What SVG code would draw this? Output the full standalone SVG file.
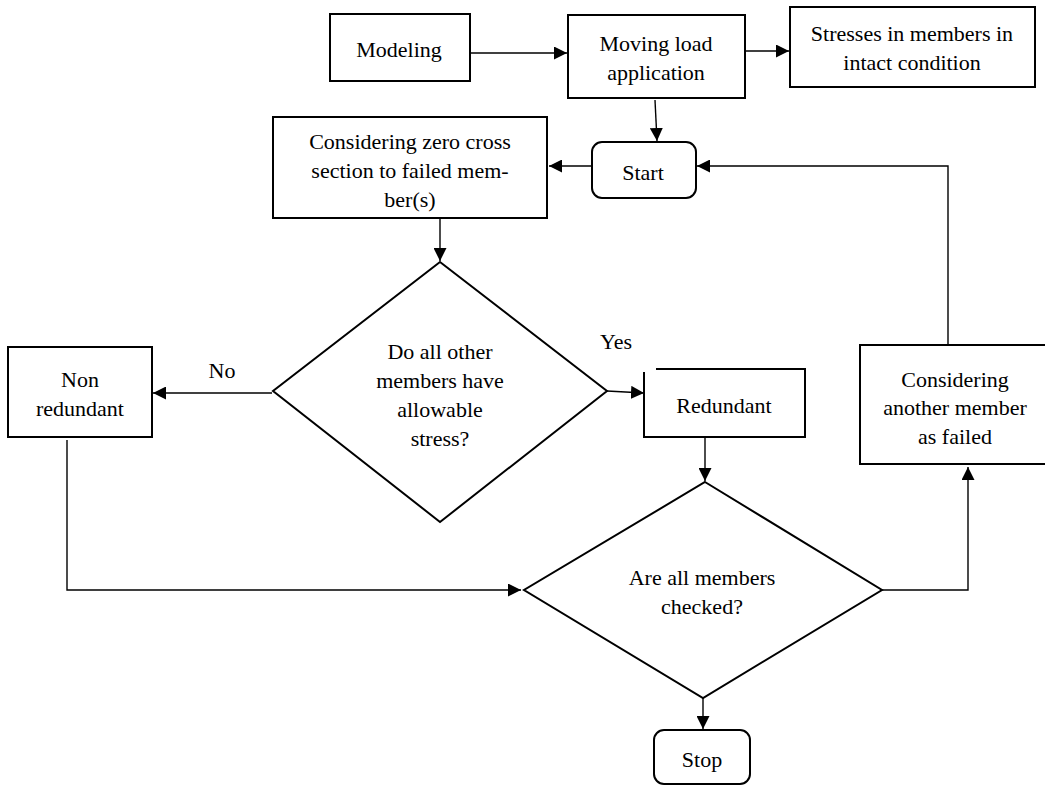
<svg xmlns="http://www.w3.org/2000/svg" width="1045" height="787" viewBox="0 0 1045 787">
<defs>
<style>
.box{fill:#fff;stroke:#000;stroke-width:2}
.ln{fill:none;stroke:#000;stroke-width:1.4}
text{font-family:"Liberation Serif","Times New Roman",serif;font-size:22px;fill:#000;text-anchor:middle}
</style>
<marker id="ah" viewBox="0 0 10 10" refX="10" refY="5" markerWidth="13" markerHeight="13" markerUnits="userSpaceOnUse" orient="auto">
<path d="M0,0 L10,5 L0,10 z" fill="#000"/>
</marker>
</defs>
<rect width="1045" height="787" fill="#fff"/>
<g id="connectors">
<line class="ln" x1="470" y1="53" x2="567" y2="53" marker-end="url(#ah)"/>
<line class="ln" x1="745" y1="51" x2="789" y2="51" marker-end="url(#ah)"/>
<line class="ln" x1="655" y1="100" x2="657" y2="141" marker-end="url(#ah)"/>
<line class="ln" x1="592" y1="166" x2="549" y2="166" marker-end="url(#ah)"/>
<line class="ln" x1="440" y1="219" x2="440" y2="261" marker-end="url(#ah)"/>
<line class="ln" x1="272" y1="393" x2="153" y2="393" marker-end="url(#ah)"/>
<line class="ln" x1="607" y1="391" x2="644" y2="393" marker-end="url(#ah)"/>
<line class="ln" x1="705" y1="437" x2="705" y2="481" marker-end="url(#ah)"/>
<line class="ln" x1="703" y1="698" x2="703" y2="729" marker-end="url(#ah)"/>
<polyline class="ln" points="67,440 67,590 521,590" marker-end="url(#ah)"/>
<polyline class="ln" points="882,590 968,590 968,467" marker-end="url(#ah)"/>
<polyline class="ln" points="948,345 948,166 697,166" marker-end="url(#ah)"/>
<text x="222" y="378">No</text>
<text x="616" y="349">Yes</text>
</g>
<g id="modeling">
<rect class="box" x="330" y="14" width="140" height="67"/>
<text x="399" y="57">Modeling</text>
</g>
<g id="moving-load">
<rect class="box" x="568" y="15" width="177" height="83"/>
<text x="656" y="51">Moving load</text>
<text x="656" y="80">application</text>
</g>
<g id="stresses">
<rect class="box" x="790" y="7" width="245" height="80"/>
<text x="912" y="41">Stresses in members in</text>
<text x="912" y="70">intact condition</text>
</g>
<g id="start">
<rect class="box" x="592" y="142" width="104" height="56" rx="10"/>
<text x="643" y="180">Start</text>
</g>
<g id="zero-cross">
<rect class="box" x="273" y="117" width="274" height="101"/>
<text x="410" y="149">Considering zero cross</text>
<text x="410" y="178">section to failed mem-</text>
<text x="410" y="207">ber(s)</text>
</g>
<g id="decision-stress">
<polygon class="box" points="440,262 607,391 440,522 273,391"/>
<text x="440" y="359">Do all other</text>
<text x="440" y="388">members have</text>
<text x="440" y="417">allowable</text>
<text x="440" y="446">stress?</text>
</g>
<g id="non-redundant">
<rect class="box" x="8" y="347" width="144" height="90"/>
<text x="80" y="387">Non</text>
<text x="80" y="416">redundant</text>
</g>
<g id="redundant">
<rect x="644" y="369" width="161" height="68" fill="#fff"/>
<path class="box" d="M644,372 V437 H805 V369 H656" fill="none"/>
<text x="724" y="413">Redundant</text>
</g>
<g id="decision-checked">
<polygon class="box" points="705,482 882,590 703,698 524,590"/>
<text x="702" y="585">Are all members</text>
<text x="702" y="614">checked?</text>
</g>
<g id="another-member">
<rect class="box" x="860" y="345" width="190" height="119"/>
<text x="955" y="387">Considering</text>
<text x="955" y="415">another member</text>
<text x="955" y="444">as failed</text>
</g>
<g id="stop">
<rect class="box" x="654" y="730" width="96" height="54" rx="10"/>
<text x="702" y="767">Stop</text>
</g>
</svg>
